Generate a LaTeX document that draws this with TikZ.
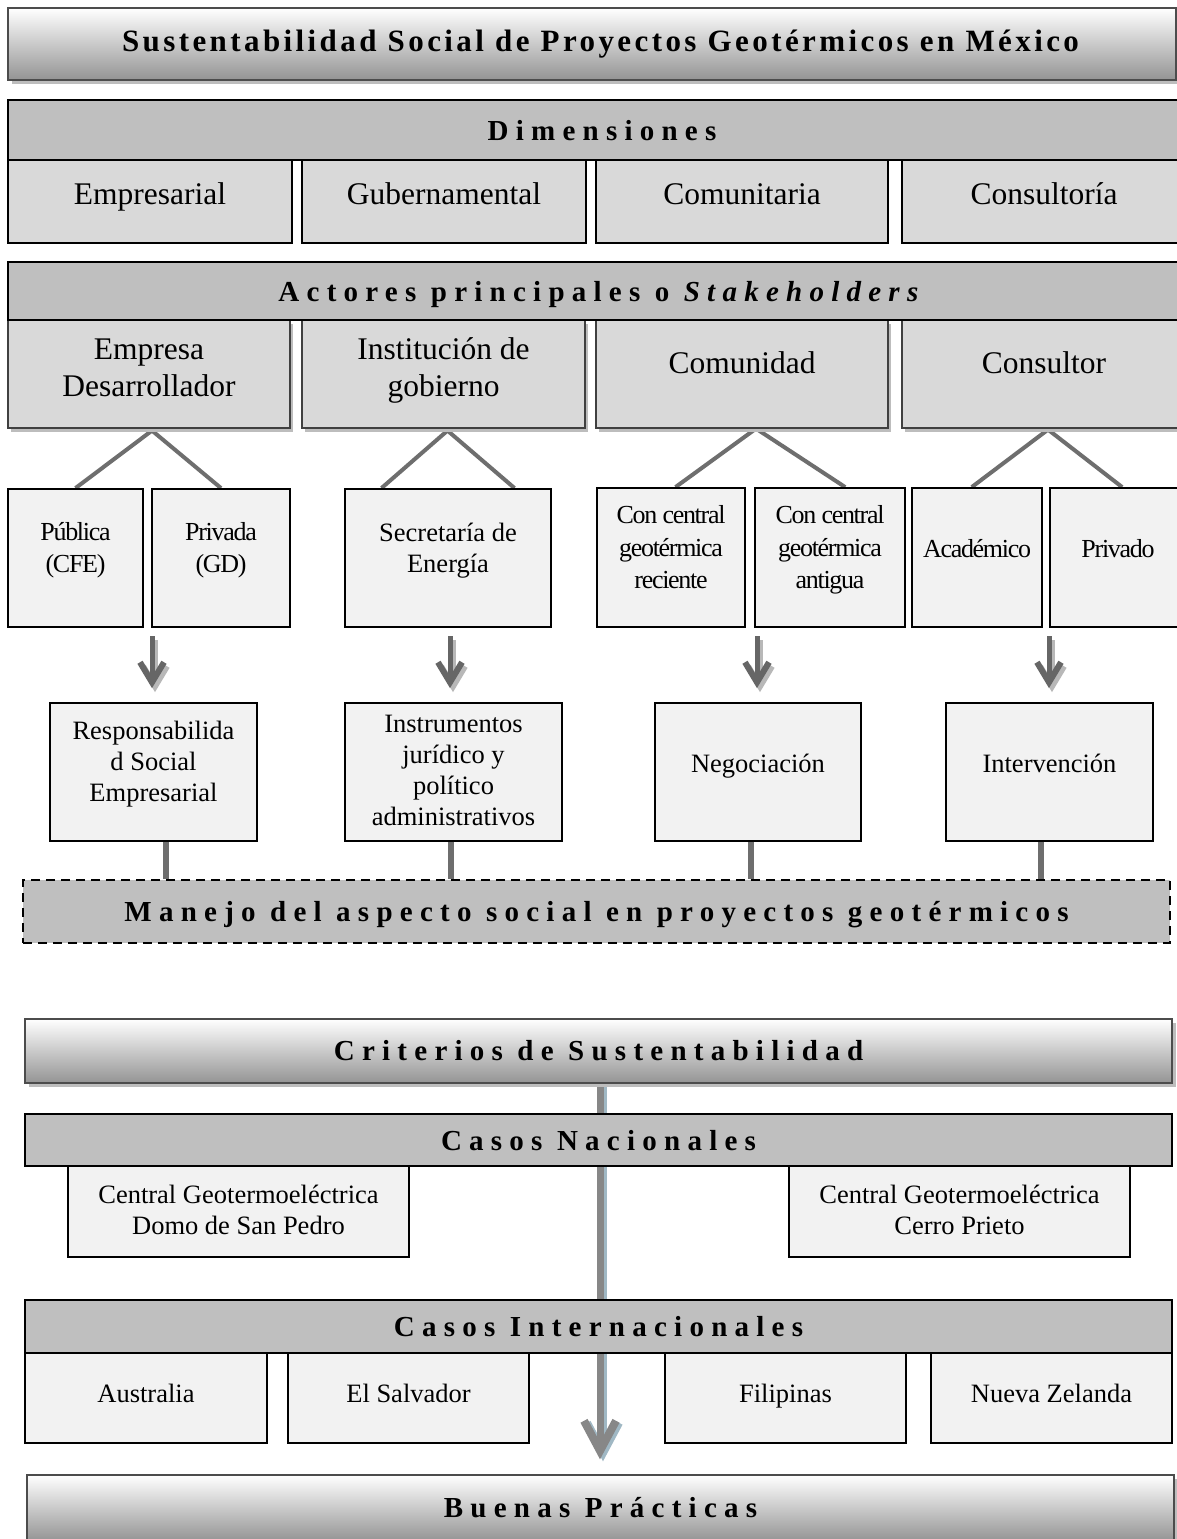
\documentclass[tikz,border=0pt]{standalone}
\usepackage{fontspec}
\setmainfont{Liberation Serif}
\usetikzlibrary{calc,arrows.meta,shadows,backgrounds}
\pgfdeclarelayer{paper}
\pgfsetlayers{paper,background,main}

\definecolor{hdrC}{gray}{0.75}
\definecolor{cellA}{gray}{0.85}
\definecolor{cellB}{gray}{0.95}
\definecolor{connC}{gray}{0.43}
\definecolor{arrC}{gray}{0.40}
\definecolor{arrShC}{gray}{0.72}
\definecolor{trunkC}{gray}{0.53}
\definecolor{trunkShC}{RGB}{160,184,196}
\definecolor{shadC}{gray}{0.74}
\definecolor{barEdge}{gray}{0.30}

% fonts used in the chart
\newcommand\hdfont[1]{\fontsize{29}{33}\selectfont\bfseries\addfontfeature{LetterSpace=#1}}
\newcommand\ttlfont{\fontsize{31}{36}\selectfont\bfseries\addfontfeature{LetterSpace=11}}
\newcommand\bigfont{\fontsize{31.5}{37}\selectfont}
\newcommand\midfont{\fontsize{26.5}{31}\selectfont}
\newcommand\cndfont{\fontsize{26}{32.5}\selectfont\addfontfeature{LetterSpace=-5}}
% symmetric strut; the argument lowers the baseline
\newcommand\cstrut[1]{\rule[\dimexpr #1-0.8em\relax]{0pt}{1.6em}}

\begin{document}
\begin{tikzpicture}[x=1pt,y=-1pt,
  sz/.style 2 args={minimum width=#1pt, minimum height=#2pt},
  base/.style={inner sep=0pt, align=center, text=black},
  body/.style={execute at begin node={\cstrut{#1}}, execute at end node={\cstrut{#1}}},
  gradbar/.style={base, draw=barEdge, line width=1.4pt, shading=axis,
    top color=white, bottom color=black!42,
    drop shadow={shadow xshift=4pt, shadow yshift=-4pt, fill=shadC, opacity=1}},
  hdrbox/.style={base, draw=black, line width=2.4pt, fill=hdrC, text depth=0pt},
  dashbox/.style={base, draw=black, line width=2.2pt, fill=hdrC, text depth=0pt,
    dash pattern=on 9pt off 6pt},
  dimbox/.style={base, body=3pt, draw=black, line width=1.8pt, fill=cellA, font=\bigfont},
  actbox/.style={base, body=#1, draw=black!75, line width=1.2pt, fill=cellA, font=\bigfont,
    drop shadow={shadow xshift=3pt, shadow yshift=-4pt, fill=shadC, opacity=1}},
  actbox/.default=-1pt,
  subbox/.style={base, body=#1, draw=black, line width=1.8pt, fill=cellB},
  subbox/.default=0pt,
  casebox/.style={base, body=#1, draw=black, line width=1.8pt, fill=cellB, font=\midfont},
  casebox/.default=4pt,
  branch/.style={draw=connC, line width=4pt},
  stem/.style={draw=connC, line width=6pt},
  downarr/.style={line width=5pt, -{Straight Barb[length=20pt, width=24pt, line width=6pt]}},
  trunk/.style={line width=7pt, -{Straight Barb[length=30pt, width=32pt, line width=8pt]}}
]
\begin{pgfonlayer}{paper}
  \fill[white] (0,0) rectangle (1177,1539);
\end{pgfonlayer}
\useasboundingbox (0,0) rectangle (1177,1539);

% ---------- title ----------
\node[gradbar, sz={1168}{72}, font=\ttlfont] (title) at (592,44)
  {\hspace*{17pt}Sustentabilidad Social de Proyectos Geotérmicos en México};

% ---------- dimensions ----------
\node[hdrbox, sz={1188}{60}, font=\hdfont{25}] (dim) at (602,130) {Dimensiones};
\node[dimbox, sz={284}{83}] (d1) at (150,201.5) {Empresarial};
\node[dimbox, sz={284}{83}] (d2) at (444,201.5) {Gubernamental};
\node[dimbox, sz={292}{83}] (d3) at (742,201.5) {Comunitaria};
\node[dimbox, sz={284}{83}] (d4) at (1044,201.5) {Consultoría};

% ---------- stakeholders ----------
\node[actbox=12pt, sz={282}{108}] (a1) at (149,374) {Empresa\\Desarrollador};
\node[actbox=12pt, sz={283}{108}] (a2) at (443.5,374) {Institución de\\gobierno};
\node[actbox, sz={292}{108}] (a3) at (742,374) {Comunidad};
\node[actbox, sz={284}{108}] (a4) at (1044,374) {Consultor};
\node[hdrbox, sz={1188}{58}, font=\hdfont{25}] (act) at (602,291)
  {Actores principales o \textit{Stakeholders}};

% ---------- stakeholder types ----------
\node[subbox, sz={135}{138}, font=\cndfont] (c1) at (75.5,558) {Pública\\(CFE)};
\node[subbox, sz={138}{138}, font=\cndfont] (c2) at (221,558) {Privada\\(GD)};
\node[subbox, sz={206}{138}, font=\midfont] (c3) at (448,558) {Secretaría de\\Energía};
\node[subbox, sz={148}{139}, font=\cndfont] (c4) at (671,557.5) {Con central\\geotérmica\\reciente};
\node[subbox, sz={150}{139}, font=\cndfont] (c5) at (830,557.5) {Con central\\geotérmica\\antigua};
\node[subbox, sz={130}{139}, font=\cndfont] (c6) at (977,557.5) {Académico};
\node[subbox, sz={136}{139}, font=\cndfont] (c7) at (1118,557.5) {Privado};

% ---------- mechanisms ----------
\node[subbox, sz={207}{138}, font=\midfont] (m1) at (153.5,772) {Responsabilida\\d Social\\Empresarial};
\node[subbox=18pt, sz={217}{138}, font=\midfont] (m2) at (453.5,772) {Instrumentos\\jurídico y\\político\\administrativos};
\node[subbox, sz={206}{138}, font=\midfont] (m3) at (758,772) {Negociación};
\node[subbox, sz={207}{138}, font=\midfont] (m4) at (1049.5,772) {Intervención};

% ---------- social management ----------
\node[dashbox, sz={1147}{63}, font=\hdfont{25}] (man) at (596.5,911.5)
  {Manejo del aspecto social en proyectos geotérmicos};

% ---------- sustainability criteria ----------
\node[gradbar, sz={1147}{64}, font=\hdfont{25}] (crit) at (598.5,1051)
  {Criterios de Sustentabilidad};
\node[casebox=17pt, sz={341}{91}] (n1) at (238.5,1211.5) {Central Geotermoeléctrica\\Domo de San Pedro};
\node[casebox=17pt, sz={341}{91}] (n2) at (959.5,1211.5) {Central Geotermoeléctrica\\Cerro Prieto};
\node[hdrbox, sz={1147}{52}, font=\hdfont{25}] (nac) at (598.5,1140) {Casos Nacionales};

\node[casebox, sz={242}{90}] (i1) at (146,1398) {Australia};
\node[casebox, sz={241}{90}] (i2) at (408.5,1398) {El Salvador};
\node[casebox, sz={241}{90}] (i3) at (785.5,1398) {Filipinas};
\node[casebox, sz={241}{90}] (i4) at (1051.5,1398) {Nueva Zelanda};
\node[hdrbox, sz={1147}{53}, font=\hdfont{25}] (int) at (598.5,1326.5) {Casos Internacionales};

\node[gradbar, sz={1147}{66}, font=\hdfont{25}] (bp) at (600.5,1508) {Buenas Prácticas};

% ---------- connectors ----------
\begin{scope}[on background layer]
  % branches from each stakeholder to its types
  \coordinate (p1) at ($(a1.south)+(3,2)$);
  \coordinate (p2) at ($(a2.south)+(4,2)$);
  \coordinate (p3) at ($(a3.south)+(14,0)$);
  \coordinate (p4) at ($(a4.south)+(4,1)$);
  \draw[branch] (c1.north) -- (p1) -- (c2.north);
  \draw[branch] ($(c3.north west)!0.18!(c3.north east)$) -- (p2)
                -- ($(c3.north west)!0.82!(c3.north east)$);
  \draw[branch] ($(c4.north west)!0.53!(c4.north east)$) -- (p3)
                -- ($(c5.north west)!0.6!(c5.north east)$);
  \draw[branch] ($(c6.north west)!0.46!(c6.north east)$) -- (p4)
                -- ($(c7.north west)!0.53!(c7.north east)$);

  % main trunk from the criteria down to good practices
  \coordinate (tA) at ($(crit.south)+(1.5,0)$);
  \coordinate (tB) at ($(bp.north)+(0,-15)$);
  \coordinate (tB) at (tA |- tB);
  \draw[trunk, draw=trunkShC, transform canvas={shift={(3pt,-2pt)}}] (tA) -- (tB);
  \draw[trunk, draw=trunkC] (tA) -- (tB);
\end{scope}

% arrows from the types to the mechanisms
\foreach \m/\dx in {m1/-1.5, m2/-3.5, m3/-1, m4/-0.5}{
  \coordinate (u) at ($(\m.north)+(\dx,-66)$);
  \coordinate (v) at ($(\m.north)+(\dx,-14)$);
  \draw[downarr, draw=arrShC, transform canvas={shift={(3pt,-4pt)}}] (u) -- (v);
  \draw[downarr, draw=arrC] (u) -- (v);
}

% stems from the mechanisms to the social management bar
\foreach \m/\dx in {m1/12.5, m2/-2.5, m3/-7, m4/-8.5}{
  \coordinate (s) at ($(\m.south)+(\dx,0)$);
  \draw[stem] (s) -- (s |- man.north);
}
\end{tikzpicture}
\end{document}
